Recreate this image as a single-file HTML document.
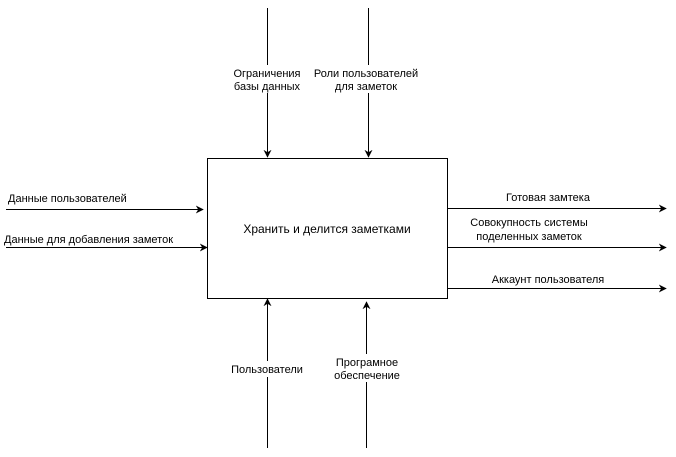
<!DOCTYPE html>
<html><head><meta charset="utf-8"><style>
html,body{margin:0;padding:0;background:#fff;width:676px;height:457px;overflow:hidden}
text{font-family:"Liberation Sans",sans-serif;font-size:11px;fill:#000}
</style></head><body>
<svg width="676" height="457" viewBox="0 0 676 457" xmlns="http://www.w3.org/2000/svg">
<defs><marker id="a" viewBox="0 0 10 10" refX="9" refY="5" markerWidth="8" markerHeight="8" orient="auto" markerUnits="userSpaceOnUse"><path d="M0,0 L10,5 L0,10 L3,5 z" fill="#000"/></marker></defs>
<g stroke="#000" stroke-width="1" fill="none">
<rect x="207.5" y="158.5" width="240" height="140"/>
<line x1="267.5" y1="8" x2="267.5" y2="157" marker-end="url(#a)"/>
<line x1="368.5" y1="8" x2="368.5" y2="157" marker-end="url(#a)"/>
<line x1="6" y1="209.5" x2="203" y2="209.5" marker-end="url(#a)"/>
<line x1="6" y1="247.5" x2="207" y2="247.5" marker-end="url(#a)"/>
<line x1="448" y1="208.5" x2="666" y2="208.5" marker-end="url(#a)"/>
<line x1="448" y1="247.5" x2="666" y2="247.5" marker-end="url(#a)"/>
<line x1="448" y1="288.5" x2="666" y2="288.5" marker-end="url(#a)"/>
<line x1="267.5" y1="448" x2="267.5" y2="299" marker-end="url(#a)"/>
<line x1="366.5" y1="448" x2="366.5" y2="302" marker-end="url(#a)"/>
</g>
<g fill="#fff">
<rect x="230" y="65" width="74" height="28"/>
<rect x="312" y="65" width="108" height="28"/>
<rect x="229" y="361" width="78" height="16"/>
<rect x="332" y="354" width="72" height="28"/>
</g>
<g text-anchor="middle">
<text x="267" y="77">Ограничения</text>
<text x="267" y="90">базы данных</text>
<text x="366" y="77">Роли пользователей</text>
<text x="366" y="90">для заметок</text>
<text x="267" y="373">Пользователи</text>
<text x="367" y="366">Програмное</text>
<text x="367" y="379">обеспечение</text>
<text x="327" y="233" style="font-size:12px">Хранить и делится заметками</text>
<text x="548" y="201">Готовая замтека</text>
<text x="529" y="226">Совокупность системы</text>
<text x="529" y="240">поделенных заметок</text>
<text x="548" y="283">Аккаунт пользователя</text>
</g>
<text x="8" y="202">Данные пользователей</text>
<text x="4" y="243">Данные для добавления заметок</text>
</svg>
</body></html>
